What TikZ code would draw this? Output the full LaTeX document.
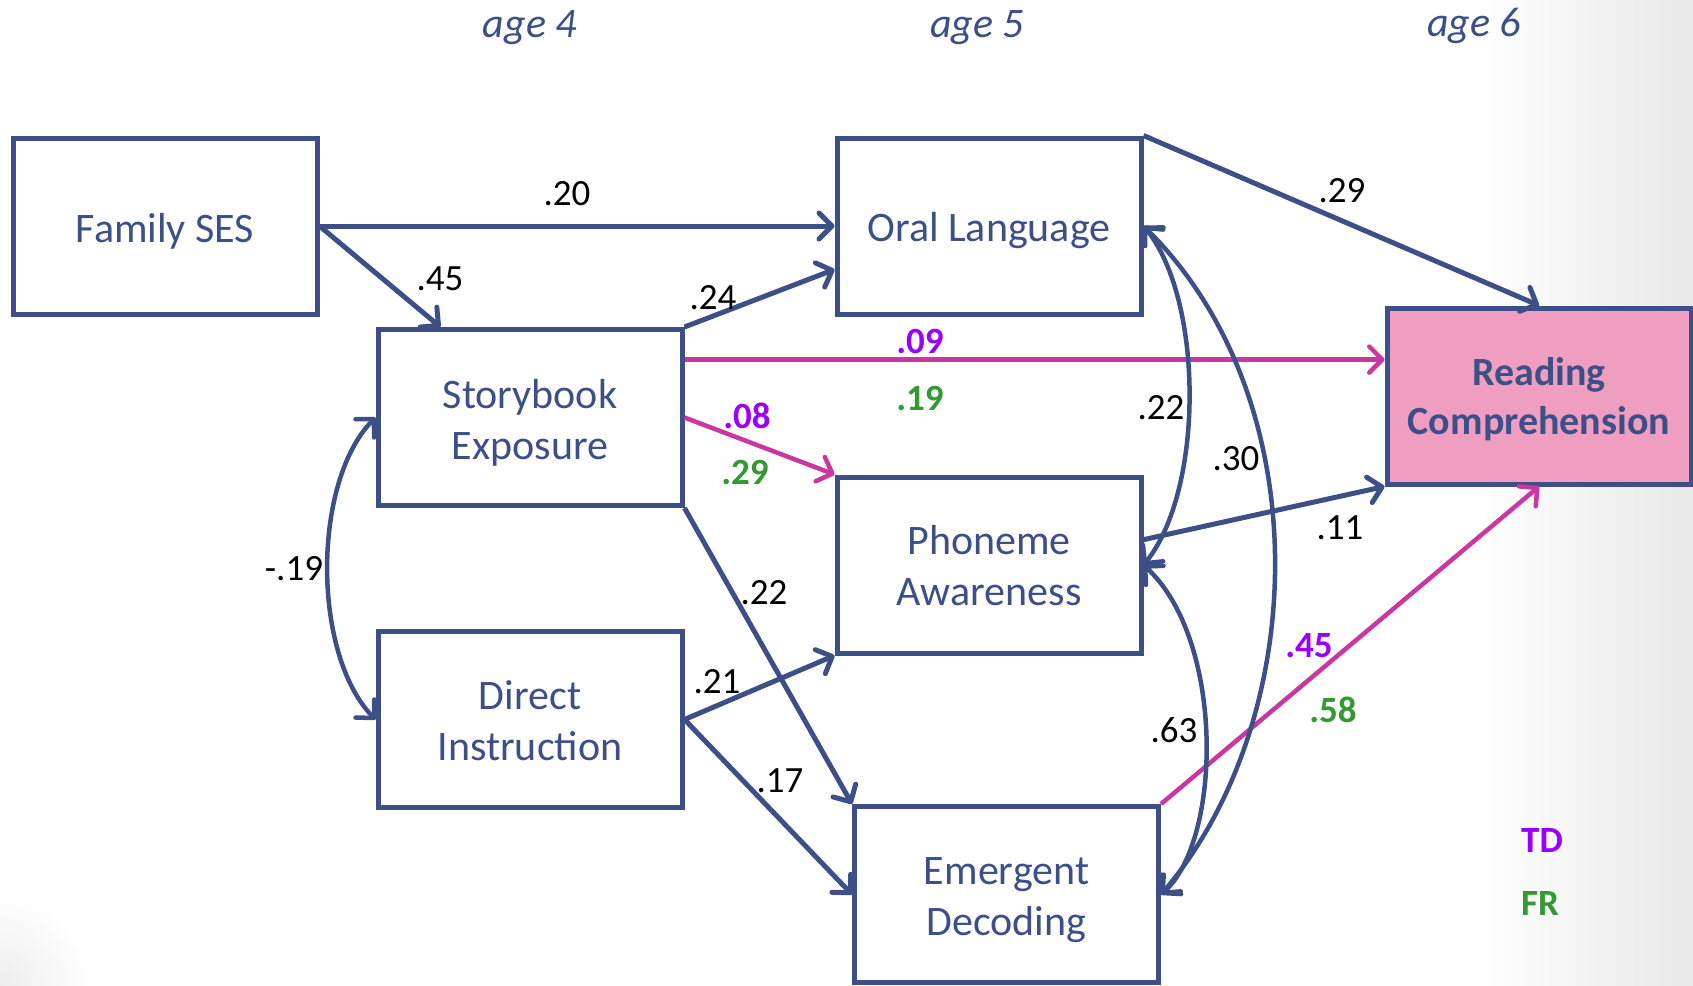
\documentclass[tikz,border=0pt]{standalone}
\usepackage{fontspec}
\setmainfont{Carlito}
\usetikzlibrary{arrows.meta,calc}

\definecolor{navy}{RGB}{60,80,135}
\definecolor{mag}{RGB}{200,56,160}
\definecolor{tdpurple}{RGB}{153,0,255}
\definecolor{frgreen}{RGB}{51,153,51}
\definecolor{pinkfill}{RGB}{240,158,192}

\begin{document}
\begin{tikzpicture}[x=1pt,y=-1pt,
  box/.style={draw=navy, line width=5pt, minimum width=304pt, minimum height=176pt, inner sep=0pt},
  boxtext/.style={align=center, text=navy, inner sep=0pt, font=\fontsize{42}{51}\selectfont},
  tipb/.tip={Straight Barb[length=13pt,width=26pt,round]},
  link/.style={draw=navy, line width=5pt, -tipb},
  mlink/.style={draw=mag, line width=4.5pt, -tipb},
  corr/.style={draw=navy, line width=4.5pt, tipb-tipb},
  lab/.style={font=\fontsize{37}{40}\selectfont, text=black, inner sep=0pt},
  tdlab/.style={font=\bfseries\fontsize{37}{40}\selectfont, text=tdpurple, inner sep=0pt},
  frlab/.style={font=\bfseries\fontsize{37}{40}\selectfont, text=frgreen, inner sep=0pt},
  agelab/.style={font=\itshape\fontsize{42}{46}\selectfont, text=navy, inner sep=0pt}]

\useasboundingbox (0,0) rectangle (1693,985);
\fill[white] (0,0) rectangle (1693,985);
% soft slide shading at the right edge and the lower left corner
\begin{scope}
  \clip (0,0) rectangle (1693,985);
  \shade[left color=white, right color=black!9] (1480,0) rectangle (1693,985);
  \shade[inner color=black!7, outer color=white] (0,985) circle[radius=90pt];
\end{scope}

% age headings
\node[agelab] (a4) at (530,28) {age 4};
\node[agelab] (a5) at (977,28) {age 5};
\node[agelab] (a6) at (1474,26) {age 6};

% variables
\node[box] (fam)    at (165,226)      {};
\node[box] (story)  at (530,417.5)    {};
\node[box] (direct) at (530,719.5)    {};
\node[box] (oral)   at (989,226)      {};
\node[box] (phon)   at (989,565)      {};
\node[box] (emerg)  at (1006.5,894.5) {};
\node[box, fill=pinkfill] (read) at (1539,396) {};

\node[boxtext] (famt)    at ([yshift=-5pt]fam.center)    {Family SES};
\node[boxtext] (storyt)  at ([yshift=-5pt]story.center)  {Storybook\\Exposure};
\node[boxtext] (directt) at ([yshift=-1pt]direct.center) {Direct\\Instruction};
\node[boxtext] (oralt)   at ([yshift=-5pt]oral.center)   {Oral Language};
\node[boxtext] (phont)   at ([yshift=-1pt]phon.center)   {Phoneme\\Awareness};
\node[boxtext] (emergt)  at ([yshift=-6pt]emerg.center)  {Emergent\\Decoding};
\node[boxtext, font=\bfseries\fontsize{40}{49}\selectfont] (readt) at ([yshift=-3pt]read.center) {Reading\\Comprehension};

% anchor points along the box sides
\coordinate (famout)   at (fam.east);
\coordinate (storytop) at ($(story.north west)!0.21!(story.north east)$);
\coordinate (oralin)   at ($(oral.north west)!0.74!(oral.south west)$);
\coordinate (storym)   at ($(story.north east)!0.18!(story.south east)$);
\coordinate (readm)    at (storym -| read.west);
\coordinate (phonout)  at ($(phon.north east)!0.36!(phon.south east)$);

% paths
\draw[link] (famout) -- (oral.west);
\draw[link] (famout) -- (storytop);
\draw[link] (story.north east) -- (oralin);
\draw[mlink] (storym) -- (readm);
\draw[mlink] (story.east) -- (phon.north west);
\draw[link] (story.south east) -- (emerg.north west);
\draw[link] (direct.east) -- (phon.south west);
\draw[link] (direct.east) -- (emerg.west);
\draw[link] (oral.north east) -- (read.north);
\draw[link] (phonout) -- (read.south west);
\draw[mlink] (emerg.north east) -- (read.south);

% correlations
\draw[corr] (story.west) .. controls (312,482) and (312,654) .. (direct.west);
\draw[corr] (oral.east) .. controls (1204,300) and (1204,490) .. (phon.east);
\draw[corr] (oral.east) .. controls (1320,400) and (1310,720) .. (emerg.east);
\draw[corr] (phon.east) .. controls (1225,640) and (1222,840) .. (emerg.east);

% coefficients
\node[lab] (c20) at (567,194) {.20};
\node[lab] (c45) at (440,279) {.45};
\node[lab] (c24) at (713,298) {.24};
\node[tdlab] (c09) at (920,341) {.09};
\node[frlab] (c19) at (920,398) {.19};
\node[tdlab] (c08) at (747,416) {.08};
\node[frlab] (c29) at (745,472) {.29};
\node[lab] (c22a) at (764,593) {.22};
\node[lab] (c21) at (717,682) {.21};
\node[lab] (c17) at (780,781) {.17};
\node[lab] (c29b) at (1342,191) {.29};
\node[lab] (c11) at (1340,528) {.11};
\node[tdlab] (c45b) at (1309,646) {.45};
\node[frlab] (c58) at (1333,710) {.58};
\node[lab] (c19n) at (294,569) {-.19};
\node[lab] (c22b) at (1161,408) {.22};
\node[lab] (c30) at (1236,459) {.30};
\node[lab] (c63) at (1174,730) {.63};

% legend
\node[tdlab] (td) at (1542,840) {TD};
\node[frlab] (fr) at (1540,903) {FR};
\end{tikzpicture}
\end{document}
